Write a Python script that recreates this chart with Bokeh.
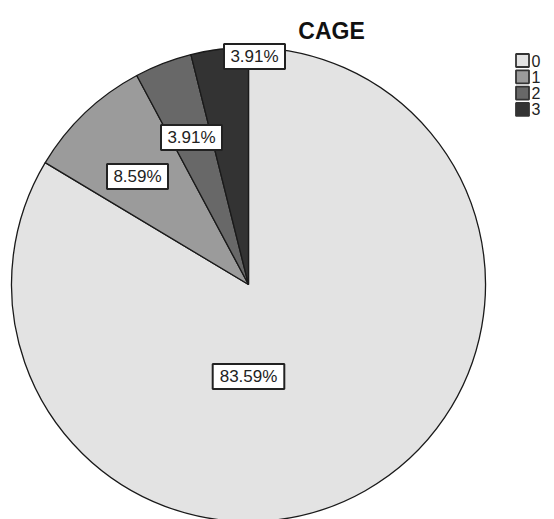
import math

from bokeh.core.properties import value
from bokeh.embed import file_html
from bokeh.models import ColumnDataSource, Range1d
from bokeh.plotting import figure
from bokeh.resources import INLINE

# CAGE score categories and their case counts
categories = ["0", "1", "2", "3"]
counts = [107, 11, 5, 5]
percent_labels = ["83.59%", "8.59%", "3.91%", "3.91%"]
colors = ["#e3e3e3", "#9b9b9b", "#686868", "#333333"]

W, H = 554, 519
CX, CY, R = 248, 284, 237

# label centres (pixel coordinates from the top-left corner)
label_pos = [(248, 376), (137, 176), (191, 137), (254, 56)]


def fy(y):
    """Convert a top-down pixel row into the upward data axis."""
    return H - y


total = sum(counts)
starts, ends = [], []
acc = 0.0
for c in counts:
    # slices run clockwise from 12 o'clock
    end = math.pi / 2 - 2 * math.pi * acc / total
    start = end - 2 * math.pi * c / total
    starts.append(start)
    ends.append(end)
    acc += c

src = ColumnDataSource(dict(cat=categories, start=starts, end=ends, color=colors))

p = figure(width=W, height=H, x_range=Range1d(0, W), y_range=Range1d(0, H),
           output_backend="svg", toolbar_location=None, min_border=0)
p.axis.visible = False
p.grid.visible = False
p.outline_line_color = None
p.background_fill_color = "white"

p.wedge(x=CX, y=fy(CY), radius=R, start_angle="start", end_angle="end",
        fill_color="color", line_color="#1a1a1a", line_width=1.3, source=src)

# percentage labels in white boxes
lx = [pt[0] for pt in label_pos]
ly = [fy(pt[1]) for pt in label_pos]
box_w = [len(t) * 10.6 + 8 for t in percent_labels]
p.rect(x=lx, y=ly, width=box_w, height=25, fill_color="white",
       line_color="#222222", line_width=2)
p.text(x=lx, y=ly, text=percent_labels, text_font=value("Liberation Sans"),
       text_font_size="17px", text_color="#222222", text_align="center",
       text_baseline="middle")

# title
p.text(x=[331], y=[fy(30)], text=["CAGE"], text_font=value("Liberation Sans"),
       text_font_size="23px", text_font_style="bold", text_color="#111111",
       text_align="center", text_baseline="middle")

# legend
leg_y = [fy(60 + 16.3 * i) for i in range(len(categories))]
p.rect(x=[522] * len(categories), y=leg_y, width=13, height=13,
       fill_color=colors, line_color="#333333", line_width=1.8)
p.text(x=[531] * len(categories), y=leg_y, text=categories,
       text_font=value("Liberation Sans"), text_font_size="16px",
       text_color="#222222", text_align="left", text_baseline="middle")

open("out.html", "w").write(file_html(p, INLINE))
